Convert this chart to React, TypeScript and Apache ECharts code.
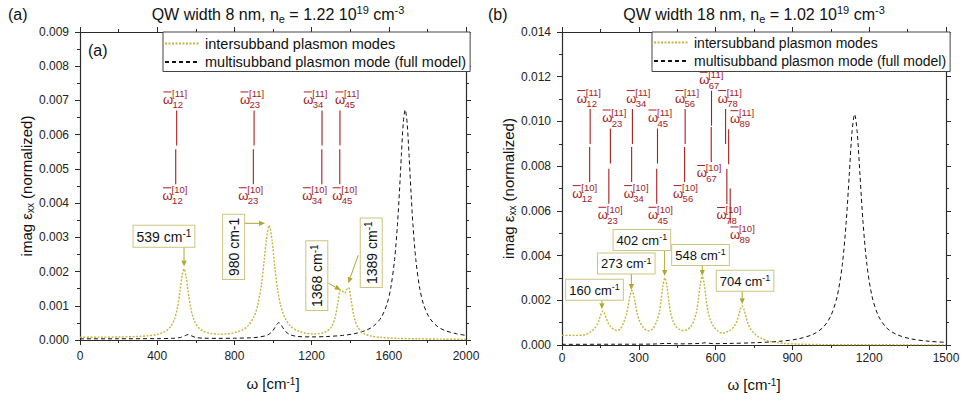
import React, { useEffect, useRef } from 'react';
import * as echarts from 'echarts';

const FONT = '"Liberation Sans", Arial, Helvetica, sans-serif';
const OLIVE = '#c4b53c';
const OLIVE_DARK = '#b2a631';
const BOX_BORDER = '#cdc47e';
const RED = '#a3201e';
const AXIS = '#2b2b2b';

const NAME_INTER = 'intersubband plasmon modes';
const NAME_MULTI = 'multisubband plasmon mode (full model)';

// ---------- Panel (a): QW width 8 nm ----------
const aIntersubband: [number, number][] = [
  [0, 0.000082], [100, 0.000083], [200, 0.000088], [300, 0.000103], [350, 0.000122], [400, 0.000162],
  [440, 0.000242], [470, 0.000393], [490, 0.00062], [505, 0.000952], [520, 0.001504], [530, 0.001912],
  [539, 0.002078], [550, 0.001842], [560, 0.001422], [575, 0.0009], [590, 0.000597], [610, 0.000389],
  [640, 0.000254], [680, 0.000188], [720, 0.000171], [760, 0.000179], [800, 0.000215], [840, 0.000291],
  [870, 0.000412], [900, 0.000664], [920, 0.001], [940, 0.001618], [955, 0.002355], [965, 0.002906],
  [980, 0.00335], [995, 0.002913], [1010, 0.002092], [1025, 0.001432], [1040, 0.001005], [1060, 0.00067],
  [1090, 0.000412], [1130, 0.000263], [1170, 0.000199], [1210, 0.000177], [1240, 0.000185], [1270, 0.000227],
  [1300, 0.000362], [1320, 0.00062], [1335, 0.00104], [1350, 0.00146], [1360, 0.00143], [1371, 0.001365],
  [1382, 0.001478], [1392, 0.00153], [1405, 0.00116], [1420, 0.00068], [1440, 0.000368], [1470, 0.000192],
  [1510, 0.000113], [1560, 0.000076], [1640, 0.00005], [1750, 0.000035], [1875, 0.000025], [2000, 0.000018],
];
const aMultisubband: [number, number][] = [
  [0, 0.000034], [200, 0.000036], [400, 0.00004], [480, 0.000049], [520, 0.000073], [545, 0.000128],
  [560, 0.00016], [575, 0.000128], [600, 0.000074], [640, 0.000053], [720, 0.000048], [800, 0.000052],
  [880, 0.000063], [930, 0.000087], [970, 0.000142], [995, 0.000244], [1010, 0.000366], [1020, 0.00046],
  [1030, 0.000506], [1040, 0.000461], [1050, 0.000369], [1065, 0.000249], [1090, 0.000151], [1130, 0.000103],
  [1200, 0.000091], [1280, 0.000102], [1360, 0.000134], [1420, 0.000182], [1480, 0.000278], [1520, 0.000404],
  [1560, 0.000654], [1590, 0.00104], [1610, 0.001515], [1630, 0.00235], [1645, 0.00338], [1655, 0.00432],
  [1665, 0.00539], [1675, 0.00634], [1685, 0.00673], [1695, 0.00634], [1705, 0.00539], [1715, 0.00432],
  [1725, 0.00338], [1740, 0.00235], [1760, 0.001515], [1780, 0.00104], [1810, 0.000654], [1850, 0.000404],
  [1890, 0.000278], [1950, 0.000182], [2000, 0.000136],
];
// subband transition markers (a)
const aOmegaSubs = ['12', '23', '34', '45'];
const aOmegaLineUp = [501, 902, 1254, 1347];
const aOmegaLineLow = [496, 898, 1253, 1346];
const aOmegaTopLeft = [430, 829, 1157, 1321];
const aOmegaBotLeft = [428, 820, 1152, 1307];
const aOmegaTopY = [0.0070, 0.0070, 0.0070, 0.0070];
const aOmegaBotY = [0.0042, 0.0042, 0.0042, 0.0042];
// peak callouts (a)
const aPeakValues = [539, 980, 1368, 1389];
const aPeakSup = [true, false, true, true];
const aPeakRot = [false, true, true, true];
const aPeakBox: [number, number][] = [[435, 0.00303], [796, 0.00272], [1227, 0.00188], [1509, 0.00255]];
const aPeakFrom: [number, number][] = [[539, 0.00273], [850, 0.00341], [1287, 0.00166], [1442, 0.00248]];
const aPeakTip: [number, number][] = [[539, 0.00215], [959, 0.00341], [1351, 0.00146], [1390, 0.00166]];

// ---------- Panel (b): QW width 18 nm ----------
const bIntersubband: [number, number][] = [
  [0, 0.00043], [50, 0.00043], [90, 0.00046], [115, 0.00061], [128, 0.00075], [138, 0.00093], [145, 0.00113],
  [152, 0.00137], [160, 0.00152], [168, 0.00137], [175, 0.00113], [182, 0.00095], [192, 0.0008], [205, 0.00068],
  [216, 0.00064], [228, 0.00072], [241, 0.00101], [251, 0.00135], [258, 0.00173], [265, 0.00217], [273, 0.00244],
  [281, 0.00217], [288, 0.00173], [295, 0.00135], [305, 0.00101], [318, 0.00078], [330, 0.00066], [340, 0.00064],
  [357, 0.00076], [370, 0.00106], [380, 0.00146], [387, 0.00196], [394, 0.00263], [402, 0.003], [410, 0.00263],
  [417, 0.00196], [424, 0.00146], [434, 0.00106], [447, 0.0008], [462, 0.00068], [475, 0.00065], [490, 0.0007],
  [503, 0.00082], [516, 0.00111], [526, 0.00152], [533, 0.00205], [540, 0.0027], [548, 0.00307], [556, 0.0027],
  [563, 0.00205], [570, 0.00152], [580, 0.00111], [593, 0.00082], [610, 0.00062], [626, 0.00052], [642, 0.00058],
  [659, 0.00067], [672, 0.00083], [682, 0.00103], [689, 0.00128], [696, 0.00157], [704, 0.00175], [712, 0.00155],
  [719, 0.00124], [726, 0.00097], [736, 0.00073], [750, 0.00053], [770, 0.00035], [800, 0.0002], [830, 0.00012],
  [870, 0.00007], [920, 0.00004], [1000, 0.00002], [1200, 0.00001], [1500, 0.000005],
];
const bMultisubband: [number, number][] = [
  [0, 0.00003], [200, 0.000034], [350, 0.00004], [410, 0.00007], [450, 0.00005], [540, 0.00007], [560, 0.0001],
  [590, 0.00006], [650, 0.00007], [750, 0.0001], [850, 0.000165], [920, 0.000268], [980, 0.000474], [1020, 0.00079],
  [1050, 0.0013], [1075, 0.00218], [1095, 0.0036], [1110, 0.00547], [1122, 0.0076], [1133, 0.00954], [1143, 0.01032],
  [1153, 0.00954], [1164, 0.0076], [1176, 0.00547], [1191, 0.0036], [1211, 0.00218], [1236, 0.0013], [1266, 0.00079],
  [1306, 0.000474], [1366, 0.000268], [1436, 0.000165], [1500, 0.00012],
];
const bOmegaSubs = ['12', '23', '34', '45', '56', '67', '78', '89'];
const bOmegaLineUp = [110, 189, 275, 373, 481, 584, 639, 651];
const bOmegaLineLow = [108, 183, 272, 370, 479, 583, 644, 657];
const bOmegaTopLeft = [58, 157, 251, 336, 441, 536, 608, 656];
const bOmegaBotLeft = [40, 140, 241, 336, 434, 526, 604, 656];
const bOmegaTopY = [0.0110, 0.01013, 0.0110, 0.01013, 0.0110, 0.01182, 0.0110, 0.0101];
const bOmegaBotY = [0.00675, 0.00578, 0.00675, 0.00578, 0.00675, 0.00765, 0.00577, 0.0049];
const bPeakValues = [160, 273, 402, 548, 704];
const bPeakBox: [number, number][] = [[127, 0.00247], [251, 0.00365], [312, 0.0047], [541, 0.00403], [715, 0.00287]];
const bPeakFrom: [number, number][] = [[156, 0.00201], [271, 0.00321], [401, 0.00425], [548, 0.00365], [704, 0.00243]];
const bPeakTip: [number, number][] = [[156, 0.0016], [271, 0.00246], [401, 0.00309], [548, 0.00309], [704, 0.00182]];

const axisCommon = {
  type: 'value' as const,
  axisLine: { show: true, onZero: false, lineStyle: { color: AXIS, width: 1.2 } },
  axisTick: { show: true, inside: false, length: 5, lineStyle: { color: AXIS, width: 1 } },
  minorTick: { show: true, splitNumber: 2, length: 3, lineStyle: { color: AXIS, width: 1 } },
  splitLine: { show: false },
  minorSplitLine: { show: false },
};

const labelStyle = { fontSize: 12, color: '#222', fontFamily: FONT };

const xNameStyle = {
  fontSize: 15, color: '#111', fontFamily: FONT,
  rich: { s: { fontSize: 10, fontFamily: FONT, color: '#111', verticalAlign: 'top', lineHeight: 10 } },
};
const yNameStyle = {
  fontSize: 15, color: '#111', fontFamily: FONT, lineHeight: 18,
  rich: { b: { fontSize: 10, fontFamily: FONT, color: '#111', verticalAlign: 'bottom', lineHeight: 10 } },
};

function xAxes(grid: number, max: number, interval: number, margin: number, gap: number) {
  return [
    {
      ...axisCommon, gridIndex: grid, position: 'bottom', min: 0, max, interval,
      axisLabel: { show: true, margin, ...labelStyle, formatter: (v: number) => String(Math.round(v)) },
      name: 'ω [cm{s|-1}]', nameLocation: 'middle', nameGap: gap, nameTextStyle: xNameStyle,
    },
    { ...axisCommon, gridIndex: grid, position: 'top', min: 0, max, interval, axisLabel: { show: false } },
  ];
}
function yAxes(grid: number, max: number, interval: number) {
  return [
    {
      ...axisCommon, gridIndex: grid, position: 'left', min: 0, max, interval,
      axisLabel: { show: true, margin: 11, ...labelStyle, formatter: (v: number) => v.toFixed(3) },
      name: 'imag ε{b|xx} (normalized)', nameLocation: 'middle', nameRotate: 90, nameGap: 45,
      nameTextStyle: yNameStyle,
    },
    { ...axisCommon, gridIndex: grid, position: 'right', min: 0, max, interval, axisLabel: { show: false } },
  ];
}

function lineSeries(name: string, data: [number, number][], axis: number, dotted: boolean) {
  return {
    name, type: 'line', xAxisIndex: axis, yAxisIndex: axis, data, symbol: 'none', showSymbol: false,
    smooth: 0.3, silent: true, z: dotted ? 3 : 2,
    lineStyle: dotted
      ? { color: OLIVE, width: 1.4, type: [2, 1.5] }
      : { color: '#111', width: 1, type: [4, 3] },
    itemStyle: { color: dotted ? OLIVE : '#111' },
  };
}

function legendFor(left: number, fontSize: number, gap: number, padding: number[]) {
  return {
    data: [NAME_INTER, NAME_MULTI], left, top: 32, orient: 'vertical', itemWidth: 35, itemHeight: 14,
    itemGap: gap, padding, borderColor: '#444', borderWidth: 1, backgroundColor: '#fff', selectedMode: false,
    itemStyle: { opacity: 0, borderWidth: 0 },
    textStyle: { fontSize, color: '#111', fontFamily: FONT, lineHeight: 15 },
  };
}

function txt(x: number, y: number, text: string, fontSize: number, extra: any = {}) {
  return {
    type: 'text', x, y, silent: true, z: 20,
    style: {
      text, fontSize, fontFamily: FONT, fill: '#111',
      align: 'left', verticalAlign: 'middle', textAlign: 'left', textVerticalAlign: 'middle',
      ...extra,
    },
  };
}

function titleRich(fs: number) {
  return {
    t: { fontSize: fs, fontFamily: FONT, fill: '#111', color: '#111', lineHeight: 20 },
    b: { fontSize: 11, fontFamily: FONT, fill: '#111', color: '#111', verticalAlign: 'bottom', lineHeight: 11 },
    s: { fontSize: 11, fontFamily: FONT, fill: '#111', color: '#111', verticalAlign: 'top', lineHeight: 11 },
  };
}

function buildGraphics(chart: any) {
  const els: any[] = [];
  const toPx = (g: number, x: number, y: number) => chart.convertToPixel({ gridIndex: g }, [x, y]) as number[];

  // titles
  els.push(txt(8, 14, '(a)', 16));
  els.push(txt(278, 14, '{t|QW width 8 nm, n}{b|e}{t| = 1.22 10}{s|19}{t| cm}{s|-3}', 16, {
    align: 'center', textAlign: 'center', rich: titleRich(16),
  }));
  els.push(txt(488, 14, '(b)', 16));
  els.push(txt(754, 14, '{t|QW width 18 nm, n}{b|e}{t| = 1.02 10}{s|19}{t| cm}{s|-3}', 16, {
    align: 'center', textAlign: 'center', rich: titleRich(16),
  }));
  els.push(txt(88, 50, '(a)', 16));

  const omega = (L: number, C: number, sup: string, sub: string) => {
    const st = { fontFamily: FONT, fill: RED, align: 'left', verticalAlign: 'middle', textAlign: 'left', textVerticalAlign: 'middle' };
    return [
      { type: 'text', x: L, y: C - 1, silent: true, z: 15, style: { ...st, text: 'ω', fontSize: 13 } },
      { type: 'line', silent: true, z: 15, shape: { x1: L + 0.5, y1: C - 8.5, x2: L + 8.5, y2: C - 8.5 }, style: { stroke: RED, lineWidth: 1 } },
      { type: 'text', x: L + 9, y: C - 6.5, silent: true, z: 15, style: { ...st, text: sup, fontSize: 9.5 } },
      { type: 'text', x: L + 9.5, y: C + 4.5, silent: true, z: 15, style: { ...st, text: sub, fontSize: 9.5 } },
    ];
  };
  const vline = (x: number, y1: number, y2: number) => ({
    type: 'line', silent: true, z: 15, shape: { x1: x, y1, x2: x, y2 }, style: { stroke: RED, lineWidth: 1.1 },
  });

  const addOmegas = (g: number, subs: string[], up: number[], low: number[], topL: number[], botL: number[], topY: number[], botY: number[]) => {
    subs.forEach((s, i) => {
      const [tl, tc] = toPx(g, topL[i], topY[i]);
      const [bl, bc] = toPx(g, botL[i], botY[i]);
      const ux = toPx(g, up[i], 0)[0];
      const lx = toPx(g, low[i], 0)[0];
      els.push(...omega(tl, tc, '[11]', s));
      els.push(...omega(bl, bc, '[10]', s));
      els.push(vline(ux, tc + 10, tc + 45));
      els.push(vline(lx, bc - 47, bc - 12));
    });
  };
  addOmegas(0, aOmegaSubs, aOmegaLineUp, aOmegaLineLow, aOmegaTopLeft, aOmegaBotLeft, aOmegaTopY, aOmegaBotY);
  addOmegas(1, bOmegaSubs, bOmegaLineUp, bOmegaLineLow, bOmegaTopLeft, bOmegaBotLeft, bOmegaTopY, bOmegaBotY);

  const addCallouts = (g: number, vals: number[], box: [number, number][], from: [number, number][], tip: [number, number][],
    sup: boolean[], rot: boolean[], fs: number) => {
    vals.forEach((v, i) => {
      const [bx, by] = toPx(g, box[i][0], box[i][1]);
      const [sx, sy] = toPx(g, from[i][0], from[i][1]);
      const [tx, ty] = toPx(g, tip[i][0], tip[i][1]);
      const dx = tx - sx, dy = ty - sy;
      const len = Math.hypot(dx, dy) || 1;
      const ux = dx / len, uy = dy / len;
      const hl = 6, hw = 2.6;
      const hx = tx - ux * hl, hy = ty - uy * hl;
      els.push({ type: 'line', silent: true, z: 12, shape: { x1: sx, y1: sy, x2: hx, y2: hy }, style: { stroke: OLIVE_DARK, lineWidth: 1 } });
      els.push({
        type: 'polygon', silent: true, z: 12,
        shape: { points: [[tx, ty], [hx - uy * hw, hy + ux * hw], [hx + uy * hw, hy - ux * hw]] },
        style: { fill: OLIVE_DARK },
      });
      els.push({
        type: 'text', x: bx, y: by, rotation: rot[i] ? Math.PI / 2 : 0, silent: true, z: 13,
        style: {
          text: sup[i] ? `{n|${v} cm}{s|-1}` : `${v} cm-1`,
          fontSize: fs, fontFamily: FONT, fill: '#111',
          align: 'center', verticalAlign: 'middle', textAlign: 'center', textVerticalAlign: 'middle',
          backgroundColor: '#fff', borderColor: BOX_BORDER, borderWidth: 1, padding: [3, 3, 2, 3],
          lineHeight: fs + 2,
          rich: {
            n: { fontSize: fs, fontFamily: FONT, fill: '#111', color: '#111', lineHeight: fs + 2 },
            s: { fontSize: Math.round(fs * 0.68), fontFamily: FONT, fill: '#111', color: '#111', verticalAlign: 'top', lineHeight: fs * 0.7 },
          },
        },
      });
    });
  };
  addCallouts(0, aPeakValues, aPeakBox, aPeakFrom, aPeakTip, aPeakSup, aPeakRot, 14);
  addCallouts(1, bPeakValues, bPeakBox, bPeakFrom, bPeakTip, bPeakValues.map(() => true), bPeakValues.map(() => false), 13);

  return els;
}

export default function App() {
  const ref = useRef<HTMLDivElement>(null);
  useEffect(() => {
    document.body.style.margin = '0';
    const chart = echarts.init(ref.current!, null, { renderer: 'svg' });
    chart.setOption({
      animation: false,
      backgroundColor: '#ffffff',
      textStyle: { fontFamily: FONT },
      grid: [
        { left: 80, top: 32, width: 386, height: 308, containLabel: false, outerBoundsMode: 'none' },
        { left: 562, top: 32, width: 384, height: 313, containLabel: false, outerBoundsMode: 'none' },
      ],
      xAxis: [...xAxes(0, 2000, 400, 10, 36), ...xAxes(1, 1500, 300, 7, 32)],
      yAxis: [...yAxes(0, 0.009, 0.001), ...yAxes(1, 0.014, 0.002)],
      legend: [legendFor(163, 14.5, 3.5, [4, 4, 2, 1]), legendFor(652, 14, 3.5, [3, 4, 3, 1])],
      series: [
        lineSeries(NAME_INTER, aIntersubband, 0, true),
        lineSeries(NAME_MULTI, aMultisubband, 0, false),
        { ...lineSeries(NAME_INTER, bIntersubband, 2, true), yAxisIndex: 2 },
        { ...lineSeries(NAME_MULTI, bMultisubband, 2, false), yAxisIndex: 2 },
      ],
    } as any);
    chart.setOption({ graphic: { elements: buildGraphics(chart) } } as any);
    return () => chart.dispose();
  }, []);
  return <div ref={ref} style={{ width: 964, height: 402 }} />;
}
